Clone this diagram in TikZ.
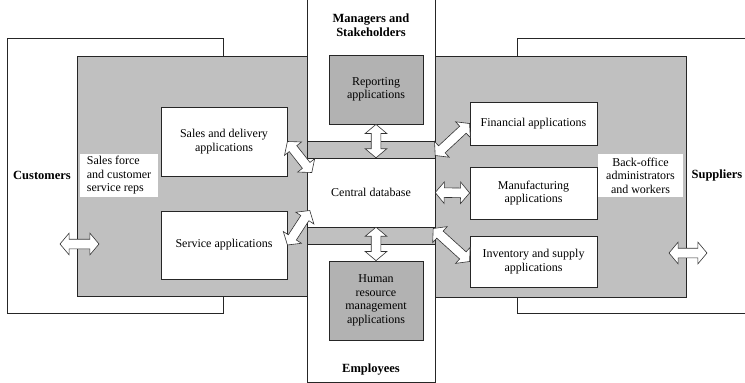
\documentclass[tikz,border=0pt]{standalone}
\usepackage{fontspec}
\setmainfont{Liberation Serif}
\usepackage{tikz}
\usetikzlibrary{shapes.arrows,positioning,calc}

\definecolor{bggray}{RGB}{192,192,192}
\definecolor{appgray}{RGB}{178,178,178}

% block double arrow between two points
\newcommand{\dblink}[2]{%
  \path let \p1=($(#2)-(#1)$), \n1={veclen(\x1,\y1)} in
    (#1) -- (#2) node[dblarr, midway, sloped, minimum height=\n1] {};}

\begin{document}
\begin{tikzpicture}[
    x=1pt, y=-1pt,
    font=\fontsize{12}{13.5}\selectfont,
    frame/.style={draw=black!85, line width=0.8pt},
    appbox/.style={frame, fill=white, align=center, inner sep=0pt},
    grayapp/.style={appbox, fill=appgray},
    tag/.style={fill=white, inner sep=0pt},
    side/.style={font=\fontsize{12.5}{14}\selectfont\bfseries, align=center},
    dblarr/.style={double arrow, draw=black!80, fill=white, line width=0.6pt,
        minimum width=0pt, double arrow head extend=6pt,
        double arrow tip angle=100, inner xsep=0pt, inner ysep=4.5pt}
]
\useasboundingbox (0,0) rectangle (745,383);

% outer regions
\draw[frame, fill=white] (7,38) rectangle (223,313);
\fill[white] (517,38) rectangle (745,313);
\draw[frame] (745,38) -- (517,38) -- (517,313) -- (745,313);
\draw[frame, fill=white] (307,0) -- (307,382) -- (435,382) -- (435,0);
\draw[frame, fill=bggray] (77,56) rectangle (307,296);
\draw[frame, fill=bggray] (435,56) rectangle (686,297);
\draw[frame, fill=bggray] (307,141) rectangle (435,158);
\draw[frame, fill=bggray] (307,227) rectangle (435,244);

% labels
\node[side] (cust) at (42,175) {Customers};
\node[side] (supp) at (717,175) {Suppliers};
\node[side] (mgr) at (371,25) {Managers and\\Stakeholders};
\node[side] (emp) at (371,370) {Employees};
\node[tag, minimum width=78, minimum height=43, align=left] (reps) at (119,175.5)
    {Sales force\\and customer\\service reps};
\node[tag, minimum width=85, minimum height=43, align=center] (back) at (640.5,175.5)
    {Back-office\\administrators\\and workers};

% applications
\node[minimum width=128, minimum height=69, inner sep=0pt] (cdb) at (371,192.5) {Central database};
\node[grayapp, minimum width=94, minimum height=69] (report) at (376,89.5) {Reporting\\applications};
\node[grayapp, minimum width=94, minimum height=79] (hr) at (376,300.5)
    {Human\\resource\\management\\applications};
\node[appbox, minimum width=126, minimum height=69] (sales) at (224,141.5) {Sales and delivery\\applications};
\node[appbox, minimum width=126, minimum height=68] (service) at (224,245) {Service applications};
\node[appbox, minimum width=127, minimum height=43] (fin) at (533.5,123.5) {Financial applications};
\node[appbox, minimum width=127, minimum height=52] (mfg) at (533.5,193) {Manufacturing\\applications};
\node[appbox, minimum width=127, minimum height=51] (inv) at (533.5,261.5) {Inventory and supply\\applications};

% arrow ends
\coordinate (salesEnd) at ([shift={(5,-20)}]cdb.west);
\coordinate (serviceEnd) at ([shift={(3,18)}]cdb.west);
\coordinate (finEnd) at ([shift={(0,-37)}]cdb.east);
\coordinate (invEnd) at ([shift={(-2,36)}]cdb.east);
\coordinate (custL) at (60,244);
\coordinate (custR) at (99,244);
\coordinate (suppL) at (669,253);
\coordinate (suppR) at (707,253);

\dblink{sales.east}{salesEnd}
\dblink{service.east}{serviceEnd}
\dblink{fin.west}{finEnd}
\dblink{cdb.east}{mfg.west}
\dblink{invEnd}{inv.west}
\dblink{report.south}{report.south |- cdb.north}
\dblink{hr.north}{hr.north |- cdb.south}
\dblink{custL}{custR}
\dblink{suppL}{suppR}
\end{tikzpicture}
\end{document}
